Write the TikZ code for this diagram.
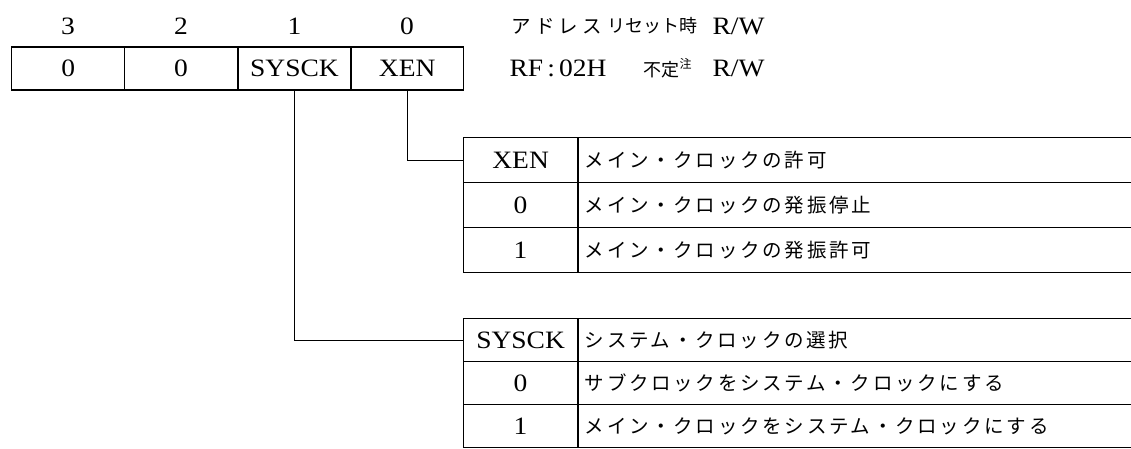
\documentclass[tikz,border=0pt]{standalone}
\usepackage{fontspec}
\setmainfont[FakeStretch=1.1]{Liberation Serif}
\newfontfamily\jp[LetterSpace=14]{Noto Sans CJK JP}
\newfontfamily\jpa[LetterSpace=21]{Noto Sans CJK JP}
\newfontfamily\jphn{Noto Sans CJK JP}
\begin{document}
\begin{tikzpicture}[x=1pt,y=-1pt,
  every node/.style={font=\fontsize{25}{28}\selectfont},
  cell/.style={draw,line width=1.2pt,minimum width=113pt,minimum height=43pt,inner sep=0pt,anchor=center},
  kcell/.style={draw,line width=1.2pt,minimum width=114pt,inner sep=0pt},
  dcell/.style={draw,line width=1.2pt,text width=560pt,inner xsep=6pt,inner ysep=0pt,align=left,anchor=west},
  jtext/.style={font=\fontsize{19.5}{22}\selectfont\jp},
  htext/.style={anchor=west,font=\fontsize{19.5}{22}\selectfont\jpa},
  htextn/.style={anchor=west,font=\fontsize{18}{22}\selectfont\jphn},
  conn/.style={line width=1pt}]
\useasboundingbox (0,0) rectangle (1131,448);
% bit numbers
\node (b3) at (68,26) {3};
\node (b2) at (181,26) {2};
\node (b1) at (294.5,26) {1};
\node (b0) at (407,26) {0};
% header
\node[htext] (haddr) at (508,26) {アドレス};
\node[htextn] (hrst) at (604,26) {リセット時};
\node[anchor=west] (hrw) at (709,26) {R/W};
\node[anchor=west] (vaddr) at (506,68) {RF\,:\,02H};
\node[htextn] (vrst) at (640,68) {不定\raisebox{0.45em}{\fontsize{12}{14}\selectfont 注}};
\node[anchor=west] (vrw) at (709,68) {R/W};
% register
\node[cell] (r3) at (68.25,68.5) {0};
\node[cell] (r2) at (181,68.5) {0};
\node[cell] (r1) at (294.5,68.5) {SYSCK};
\node[cell] (r0) at (407.25,68.5) {XEN};
% table 1 (XEN)
\node[kcell,minimum height=45pt,anchor=north west] (t1k0) at (463,137) {XEN};
\node[kcell,minimum height=45pt,anchor=north west] (t1k1) at (463,182) {0};
\node[kcell,minimum height=45pt,anchor=north west] (t1k2) at (463,227) {1};
\node[dcell,minimum height=45pt,jtext] (t1d0) at (t1k0.east) {メイン・クロックの許可};
\node[dcell,minimum height=45pt,jtext] (t1d1) at (t1k1.east) {メイン・クロックの発振停止};
\node[dcell,minimum height=45pt,jtext] (t1d2) at (t1k2.east) {メイン・クロックの発振許可};
% table 2 (SYSCK)
\node[kcell,minimum height=43pt,anchor=north west] (t2k0) at (463,318) {SYSCK};
\node[kcell,minimum height=43pt,anchor=north west] (t2k1) at (463,361) {0};
\node[kcell,minimum height=43pt,anchor=north west] (t2k2) at (463,404) {1};
\node[dcell,minimum height=43pt,jtext] (t2d0) at (t2k0.east) {システム・クロックの選択};
\node[dcell,minimum height=43pt,jtext] (t2d1) at (t2k1.east) {サブクロックをシステム・クロックにする};
\node[dcell,minimum height=43pt,jtext] (t2d2) at (t2k2.east) {メイン・クロックをシステム・クロックにする};
% connectors
\draw[conn] (r0.south) |- (t1k0.west);
\draw[conn] (r1.south) |- (t2k0.west);
\end{tikzpicture}
\end{document}
